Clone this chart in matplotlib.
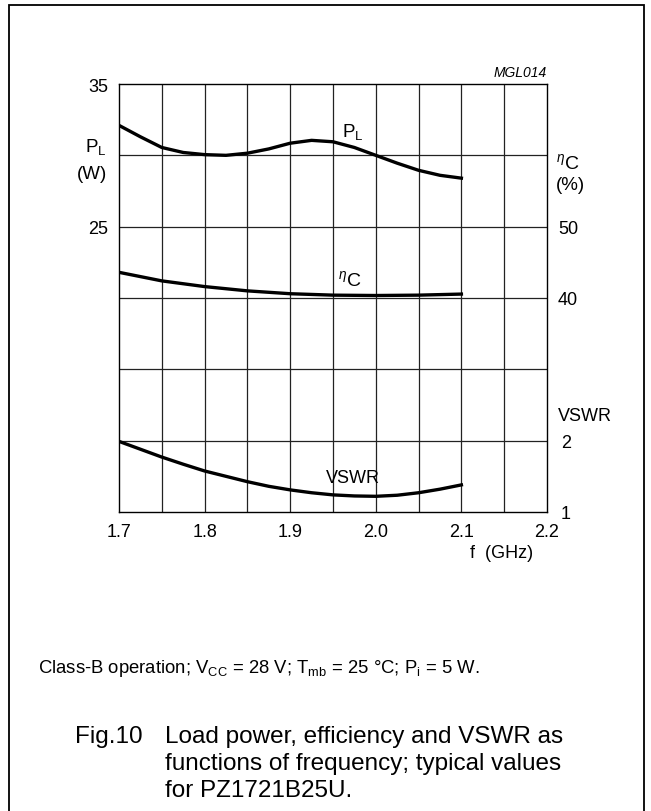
import matplotlib
matplotlib.use("Agg")
import matplotlib.pyplot as plt
from matplotlib.patches import Rectangle

plt.rcParams['font.family'] = ['Liberation Sans', 'DejaVu Sans']
plt.rcParams['mathtext.fontset'] = 'custom'
plt.rcParams['mathtext.rm'] = 'Liberation Sans'
plt.rcParams['mathtext.it'] = 'Liberation Sans:italic'

# ---- data ----
freq_pl = [1.700, 1.725, 1.750, 1.775, 1.800, 1.825, 1.850, 1.875, 1.900,
           1.925, 1.950, 1.975, 2.000, 2.025, 2.050, 2.075, 2.100]
load_power = [32.1, 31.3, 30.55, 30.2, 30.05, 30.0, 30.15, 30.45, 30.85,
              31.05, 30.95, 30.55, 30.0, 29.45, 28.95, 28.6, 28.4]

freq_eff = [1.700, 1.725, 1.750, 1.775, 1.800, 1.825, 1.850, 1.875, 1.900,
            1.950, 2.000, 2.050, 2.100]
efficiency = [43.6, 43.0, 42.4, 42.0, 41.6, 41.3, 41.0, 40.8, 40.6,
              40.4, 40.35, 40.4, 40.55]

freq_vswr = [1.700, 1.725, 1.750, 1.775, 1.800, 1.825, 1.850, 1.875, 1.900,
             1.925, 1.950, 1.975, 2.000, 2.025, 2.050, 2.075, 2.100]
vswr = [1.99, 1.88, 1.77, 1.67, 1.575, 1.50, 1.425, 1.36, 1.31,
        1.27, 1.24, 1.225, 1.22, 1.235, 1.27, 1.32, 1.38]

x_ticks = [1.7, 1.8, 1.9, 2.0, 2.1, 2.2]
x_tick_labels = ['1.7', '1.8', '1.9', '2.0', '2.1', '2.2']
pl_ticks = [25, 35]
eff_ticks = [40, 50]
vswr_ticks = [1, 2]

W, H = 651, 812
fig = plt.figure(figsize=(W / 100, H / 100), dpi=100)

def fx(x):
    return x / W

def fy(y):
    return 1 - y / H

# outer frame
fig.patches.append(Rectangle((fx(9), fy(830)), fx(644) - fx(9), fy(6) - fy(830),
                             transform=fig.transFigure, fill=False,
                             edgecolor='black', linewidth=1.3))

L, R, T, B = 119, 547, 85, 513
ax = fig.add_axes([fx(L), fy(B), fx(R) - fx(L), fy(T) - fy(B)])
ax.set_xlim(1.7, 2.2)
ax.set_ylim(5, 35)

grid_kw = dict(color='#222222', linewidth=0.9, zorder=1)
for i in range(1, 10):
    ax.axvline(1.7 + 0.05 * i, **grid_kw)
for v in [10, 15, 20, 25, 30]:
    ax.axhline(v, **grid_kw)

line_kw = dict(color='black', linewidth=2.4, zorder=3, solid_joinstyle='round')
ax.plot(freq_pl, load_power, **line_kw)

fs = 13
ax.set_xticks(x_ticks)
ax.set_xticklabels(x_tick_labels)
ax.set_yticks(pl_ticks)
ax.set_yticklabels([str(t) for t in pl_ticks])
ax.tick_params(length=0, labelsize=fs, pad=8)
for s in ax.spines.values():
    s.set_linewidth(1.0)

ax2 = ax.twinx()
ax2.set_ylim(10, 70)
ax2.plot(freq_eff, efficiency, **line_kw)
ax2.set_yticks(eff_ticks)
ax2.set_yticklabels([str(t) for t in eff_ticks])
ax2.tick_params(length=0, labelsize=fs, pad=8)

ax3 = ax.twinx()
ax3.set_ylim(1, 7)
ax3.plot(freq_vswr, vswr, **line_kw)
ax3.set_yticks(vswr_ticks)
ax3.set_yticklabels([str(t) for t in vswr_ticks])
ax3.tick_params(length=0, labelsize=fs, pad=10)
for a in (ax2, ax3):
    for s in a.spines.values():
        s.set_visible(False)
    a.set_xlim(1.7, 2.2)

# axis titles
fig.text(fx(107), fy(147), r'P$_\mathregular{L}$', ha='right', va='center', fontsize=fs + 0.5)
fig.text(fx(107), fy(175), '(W)', ha='right', va='center', fontsize=fs + 0.5)
fig.text(fx(556), fy(163), r'$^{\eta}$C', ha='left', va='center', fontsize=fs + 1)
fig.text(fx(556), fy(186), '(%)', ha='left', va='center', fontsize=fs + 0.5)
fig.text(fx(558), fy(417), 'VSWR', ha='left', va='center', fontsize=fs)
fig.text(fx(547), fy(73), 'MGL014', ha='right', va='center', fontsize=10,
         style='italic')
fig.text(fx(470), fy(554), 'f  (GHz)', ha='left', va='center', fontsize=fs)

# curve labels
fig.text(fx(342), fy(132), r'P$_\mathregular{L}$', ha='left', va='center', fontsize=fs + 0.5)
fig.text(fx(338), fy(280), r'$^{\eta}$C', ha='left', va='center', fontsize=fs + 1)
fig.text(fx(326), fy(479), 'VSWR', ha='left', va='center', fontsize=fs)

# captions
fig.text(fx(38), fy(669),
         r'Class-B operation; V$_\mathregular{CC}$ = 28 V; T$_\mathregular{mb}$ = 25 °C; P$_\mathregular{i}$ = 5 W.',
         ha='left', va='center', fontsize=13.3)
fig.text(fx(75), fy(737), 'Fig.10', ha='left', va='center', fontsize=17.5)
cap = ['Load power, efficiency and VSWR as',
       'functions of frequency; typical values',
       'for PZ1721B25U.']
for i, line in enumerate(cap):
    fig.text(fx(165), fy(737 + 27 * i), line, ha='left', va='center', fontsize=17.5)

fig.savefig('out.png', dpi=100)
